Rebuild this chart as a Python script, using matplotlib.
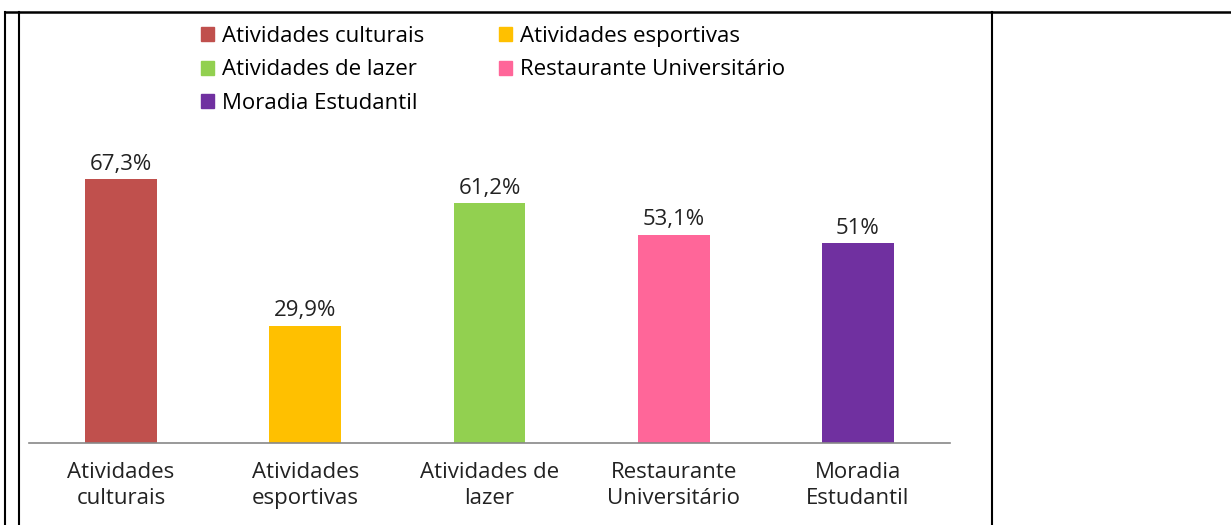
#!/usr/bin/env python3
"""
Bar chart of student participation in university activities/services.
"""

import matplotlib.pyplot as plt
from matplotlib.lines import Line2D
from matplotlib.patches import Patch

# Data
categories = ["Atividades culturais", "Atividades esportivas", "Atividades de lazer",
              "Restaurante Universitário", "Moradia Estudantil"]
tick_labels = ["Atividades\nculturais", "Atividades\nesportivas", "Atividades de\nlazer",
               "Restaurante\nUniversitário", "Moradia\nEstudantil"]
values = [67.3, 29.9, 61.2, 53.1, 51.0]
value_labels = ["67,3%", "29,9%", "61,2%", "53,1%", "51%"]
colors = ["#C0504D", "#FFC000", "#92D050", "#FF6699", "#7030A0"]

plt.rcParams['font.family'] = ['Open Sans', 'DejaVu Sans']

fig = plt.figure(figsize=(12.31, 5.25), dpi=100)
ax = fig.add_axes([29 / 1231, 82 / 525, 921 / 1231, 314 / 525])

x = range(len(categories))
ax.bar(x, values, width=0.39, color=colors)

# Value labels above bars
for i, (v, lab) in enumerate(zip(values, value_labels)):
    ax.annotate(lab, (i, v), xytext=(0, 3), textcoords="offset points",
                ha="center", va="bottom", fontsize=16, color="#222222")

ax.set_xlim(-0.5, len(categories) - 0.5)
ax.set_ylim(0, 80)
ax.set_xticks(list(x))
ax.set_xticklabels(tick_labels, fontsize=16, color="#222222", linespacing=1.27)
ax.tick_params(axis="x", length=0, pad=14)
ax.set_yticks([])
for side in ["top", "left", "right"]:
    ax.spines[side].set_visible(False)
ax.spines["bottom"].set_color("#888888")
ax.spines["bottom"].set_linewidth(1.2)

# Legend: row-major layout needs column-major ordering of handles
order = [0, 2, 4, 1, 3]
handles = [Patch(color=colors[i], label=categories[i]) for i in order]
fig.legend(handles=handles, ncol=2, loc="upper left",
           bbox_to_anchor=(201 / 1231, 1 - 26 / 525), frameon=False,
           fontsize=16, handlelength=0.6, handleheight=0.6, handletextpad=0.35,
           columnspacing=3.35, labelspacing=0.56, borderaxespad=0, borderpad=0)

# Surrounding table cell lines
fig.add_artist(Line2D([5 / 1231, 1], [1 - 12 / 525, 1 - 12 / 525], color="black", lw=1.8))
fig.add_artist(Line2D([5 / 1231, 5 / 1231], [0, 1 - 12 / 525], color="black", lw=1.5))
fig.add_artist(Line2D([19 / 1231, 19 / 1231], [0, 1 - 12 / 525], color="black", lw=1.5))
fig.add_artist(Line2D([992 / 1231, 992 / 1231], [0, 1 - 12 / 525], color="black", lw=1.5))

fig.savefig("out.png", dpi=100)
